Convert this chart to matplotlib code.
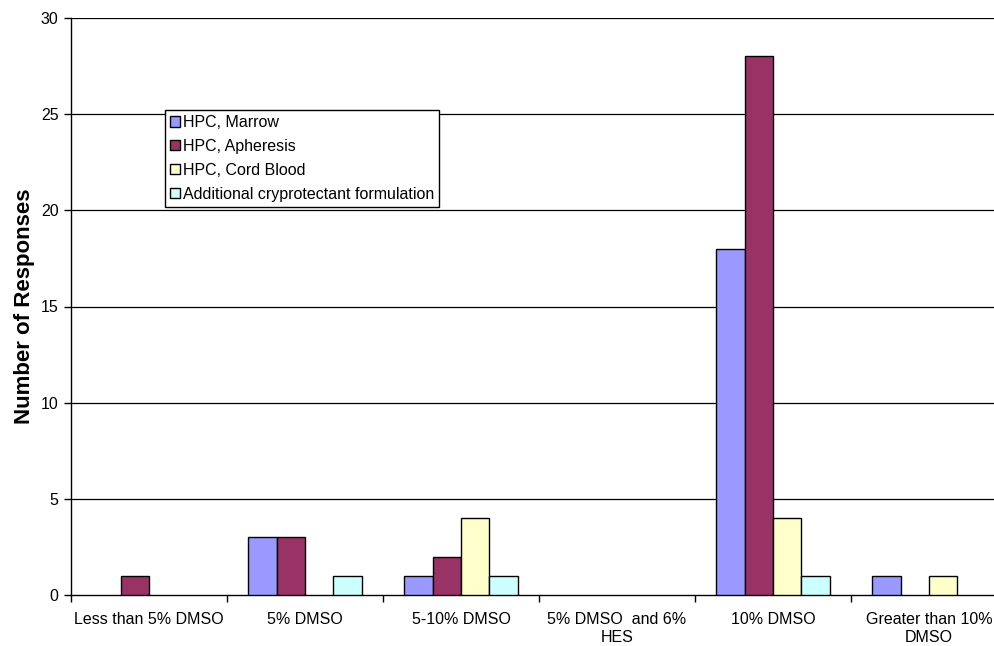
import matplotlib
matplotlib.use('Agg')
import matplotlib.pyplot as plt
from matplotlib.patches import Patch
import numpy as np

plt.rcParams['font.family'] = ['Liberation Sans', 'DejaVu Sans']

categories = ["Less than 5% DMSO", "5% DMSO", "5-10% DMSO",
              "5% DMSO  and 6%\nHES", "10% DMSO", "Greater than 10%\nDMSO"]
series_names = ["HPC, Marrow", "HPC, Apheresis", "HPC, Cord Blood",
                "Additional cryprotectant formulation"]
marrow = [0, 3, 1, 0, 18, 1]
apheresis = [1, 3, 2, 0, 28, 0]
cord_blood = [0, 0, 4, 0, 4, 1]
additional = [0, 1, 1, 0, 1, 0]
series = [marrow, apheresis, cord_blood, additional]
colors = ["#9999FF", "#993366", "#FFFFCC", "#CCFFFF"]

fig = plt.figure(figsize=(9.95, 6.46), dpi=100)
# plot area runs past the right edge of the figure
ax = fig.add_axes([71 / 995, 51 / 646, 936 / 995, 577 / 646])

x = np.arange(len(categories))
bar_w = 1 / 5.5
for i, (vals, col) in enumerate(zip(series, colors)):
    pos = x - 2 * bar_w + (i + 0.5) * bar_w
    vals = np.array(vals)
    keep = vals > 0
    ax.bar(pos[keep], vals[keep], width=bar_w, color=col,
           edgecolor="black", linewidth=1.0, zorder=3)

ax.set_xlim(-0.5, len(categories) - 0.5)
ax.set_ylim(0, 30)
ax.set_yticks(range(0, 31, 5))
for yv in range(5, 31, 5):
    ax.axhline(yv, color="black", linewidth=0.9, zorder=1)

ax.set_xticks(np.arange(-0.5, len(categories) - 0.5, 1))
ax.set_xticklabels([])
ax.set_xticks(x, minor=True)
ax.set_xticklabels(categories, minor=True, fontsize=11.5, linespacing=1.3)
ax.tick_params(axis="x", which="minor", length=0, pad=12)
ax.tick_params(axis="x", which="major", length=5, width=1, direction="out")
ax.tick_params(axis="y", length=5, width=1, direction="out", labelsize=11.5, pad=4)

for side in ["top", "right"]:
    ax.spines[side].set_visible(False)
ax.spines["left"].set_linewidth(1)
ax.spines["bottom"].set_linewidth(1)

ax.set_ylabel("Number of Responses", fontsize=16, fontweight="bold", labelpad=4)

handles = [Patch(facecolor=c, edgecolor="black", linewidth=1) for c in colors]
leg = ax.legend(handles, series_names, loc="upper left",
                bbox_to_anchor=(94 / 936, 485 / 577), borderaxespad=0,
                fontsize=11.5, handlelength=0.6, handleheight=0.6,
                handletextpad=0.2, labelspacing=0.56, borderpad=0.32,
                fancybox=False, framealpha=1, edgecolor="black")
leg.get_frame().set_linewidth(1)

plt.savefig("out.png", dpi=100)
plt.close()
